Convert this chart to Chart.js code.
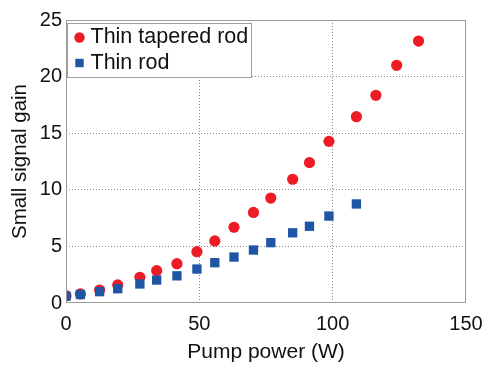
<!DOCTYPE html>
<html>
<head>
<meta charset="utf-8">
<script src="https://cdn.jsdelivr.net/npm/chart.js@4/dist/chart.umd.min.js"></script>
<style>
html,body{margin:0;padding:0;background:#fff;}
#wrap{width:485px;height:366px;}
</style>
</head>
<body>
<div id="wrap"><canvas id="c" width="485" height="366"></canvas></div>
<script>
// Data
const seriesNames = ['Thin tapered rod', 'Thin rod'];
const taperedPower = [0, 5.4, 12.6, 19.4, 27.7, 34, 41.6, 49.1, 55.8, 63, 70.3, 76.8, 85, 91.3, 98.6, 108.9, 116.2, 124, 132.2];
const taperedGain  = [0.65, 0.8, 1.15, 1.6, 2.27, 2.86, 3.47, 4.53, 5.48, 6.69, 8.0, 9.27, 10.93, 12.4, 14.28, 16.46, 18.35, 21.0, 23.14];
const rodPower = [0, 5.4, 12.6, 19.4, 27.7, 34, 41.6, 49.1, 55.8, 63, 70.3, 76.8, 85, 91.3, 98.6, 108.9];
const rodGain  = [0.6, 0.75, 1.0, 1.26, 1.68, 2.03, 2.4, 3.0, 3.56, 4.06, 4.68, 5.33, 6.2, 6.78, 7.68, 8.75];
const xTicks = [0, 50, 100, 150];
const yTicks = [0, 5, 10, 15, 20, 25];
const xTitle = 'Pump power (W)';
const yTitle = 'Small signal gain';

const RED = '#ED1C24';
const BLUE = '#1F55A5';
const FONT = '"Liberation Sans", Arial, sans-serif';

function pts(xs, ys){ return xs.map((x,i)=>({x:x, y:ys[i]})); }

const gridColor = (ctx) => {
  const v = ctx.tick && ctx.tick.value;
  const scale = ctx.scale;
  if (v === scale.min || v === scale.max) return 'rgba(0,0,0,0)';
  return '#8a8a8a';
};

const framePlugin = {
  id: 'frame',
  afterDatasetsDraw(chart){
    const {ctx, chartArea:a} = chart;
    ctx.save();
    ctx.strokeStyle = '#9a9a9a';
    ctx.lineWidth = 1;
    ctx.strokeRect(Math.round(a.left)+0.5, Math.round(a.top)+0.5, Math.round(a.right-a.left)-1, Math.round(a.bottom-a.top)-1);
    ctx.restore();
  }
};

const legendPlugin = {
  id: 'boxLegend',
  afterDraw(chart){
    const {ctx, chartArea:a} = chart;
    ctx.save();
    const bx = a.left + 1.5, by = a.top + 3.5, bw = 184, bh = 54;
    ctx.fillStyle = '#fff';
    ctx.fillRect(bx, by, bw, bh);
    ctx.strokeStyle = '#a0a0a0';
    ctx.lineWidth = 1;
    ctx.strokeRect(bx, by, bw, bh);
    ctx.font = '21.5px ' + FONT;
    ctx.textBaseline = 'middle';
    ctx.textAlign = 'left';
    const rows = [37.5, 63];
    chart.data.datasets.forEach((ds, i) => {
      const y = rows[i];
      const mx = bx + 12;
      ctx.fillStyle = ds.backgroundColor;
      if (ds.pointStyle === 'circle') {
        ctx.beginPath(); ctx.arc(mx, y, 5.2, 0, Math.PI*2); ctx.fill();
      } else {
        ctx.fillRect(mx - 4.2, y - 4.2, 8.4, 8.4);
      }
      ctx.fillStyle = '#111';
      ctx.fillText(ds.label, bx + 23, y);
    });
    ctx.restore();
  }
};

new Chart(document.getElementById('c'), {
  type: 'scatter',
  data: {
    datasets: [
      { label: seriesNames[0], data: pts(taperedPower, taperedGain), pointStyle: 'circle',
        backgroundColor: RED, borderColor: RED, borderWidth: 0, pointRadius: 5.6, order: 1 },
      { label: seriesNames[1], data: pts(rodPower, rodGain), pointStyle: 'rect',
        backgroundColor: BLUE, borderColor: BLUE, borderWidth: 0, pointRadius: 6.6, order: 0 }
    ]
  },
  options: {
    responsive: false,
    animation: false,
    devicePixelRatio: 1,
    layout: { padding: { left: 0, right: 19, top: 20, bottom: 0 } },
    plugins: { legend: { display: false }, tooltip: { enabled: false } },
    scales: {
      x: {
        type: 'linear', min: 0, max: 150,
        afterBuildTicks(s){ s.ticks = xTicks.map(v=>({value:v})); },
        afterFit(s){ s.height = 63; s.paddingLeft = 0; s.paddingRight = 0; },
        ticks: { color: '#111', font: { family: FONT, size: 20 }, padding: 9, maxRotation: 0 },
        grid: { color: gridColor, lineWidth: 1, drawTicks: false },
        border: { display: false, dash: [1,2] },
        title: { display: true, text: xTitle, color: '#111', font: { family: FONT, size: 21 }, padding: { top: 0, bottom: 1 } }
      },
      y: {
        type: 'linear', min: 0, max: 25,
        afterBuildTicks(s){ s.ticks = yTicks.map(v=>({value:v})); },
        afterFit(s){ s.width = 66; s.paddingTop = 0; s.paddingBottom = 0; },
        ticks: { color: '#111', font: { family: FONT, size: 20 }, padding: 4 },
        grid: { color: gridColor, lineWidth: 1, drawTicks: false },
        border: { display: false, dash: [1,2] },
        title: { display: true, text: yTitle, color: '#111', font: { family: FONT, size: 20.5 }, padding: { top: 8, bottom: 0 } }
      }
    }
  },
  plugins: [framePlugin, legendPlugin]
});
</script>
</body>
</html>
